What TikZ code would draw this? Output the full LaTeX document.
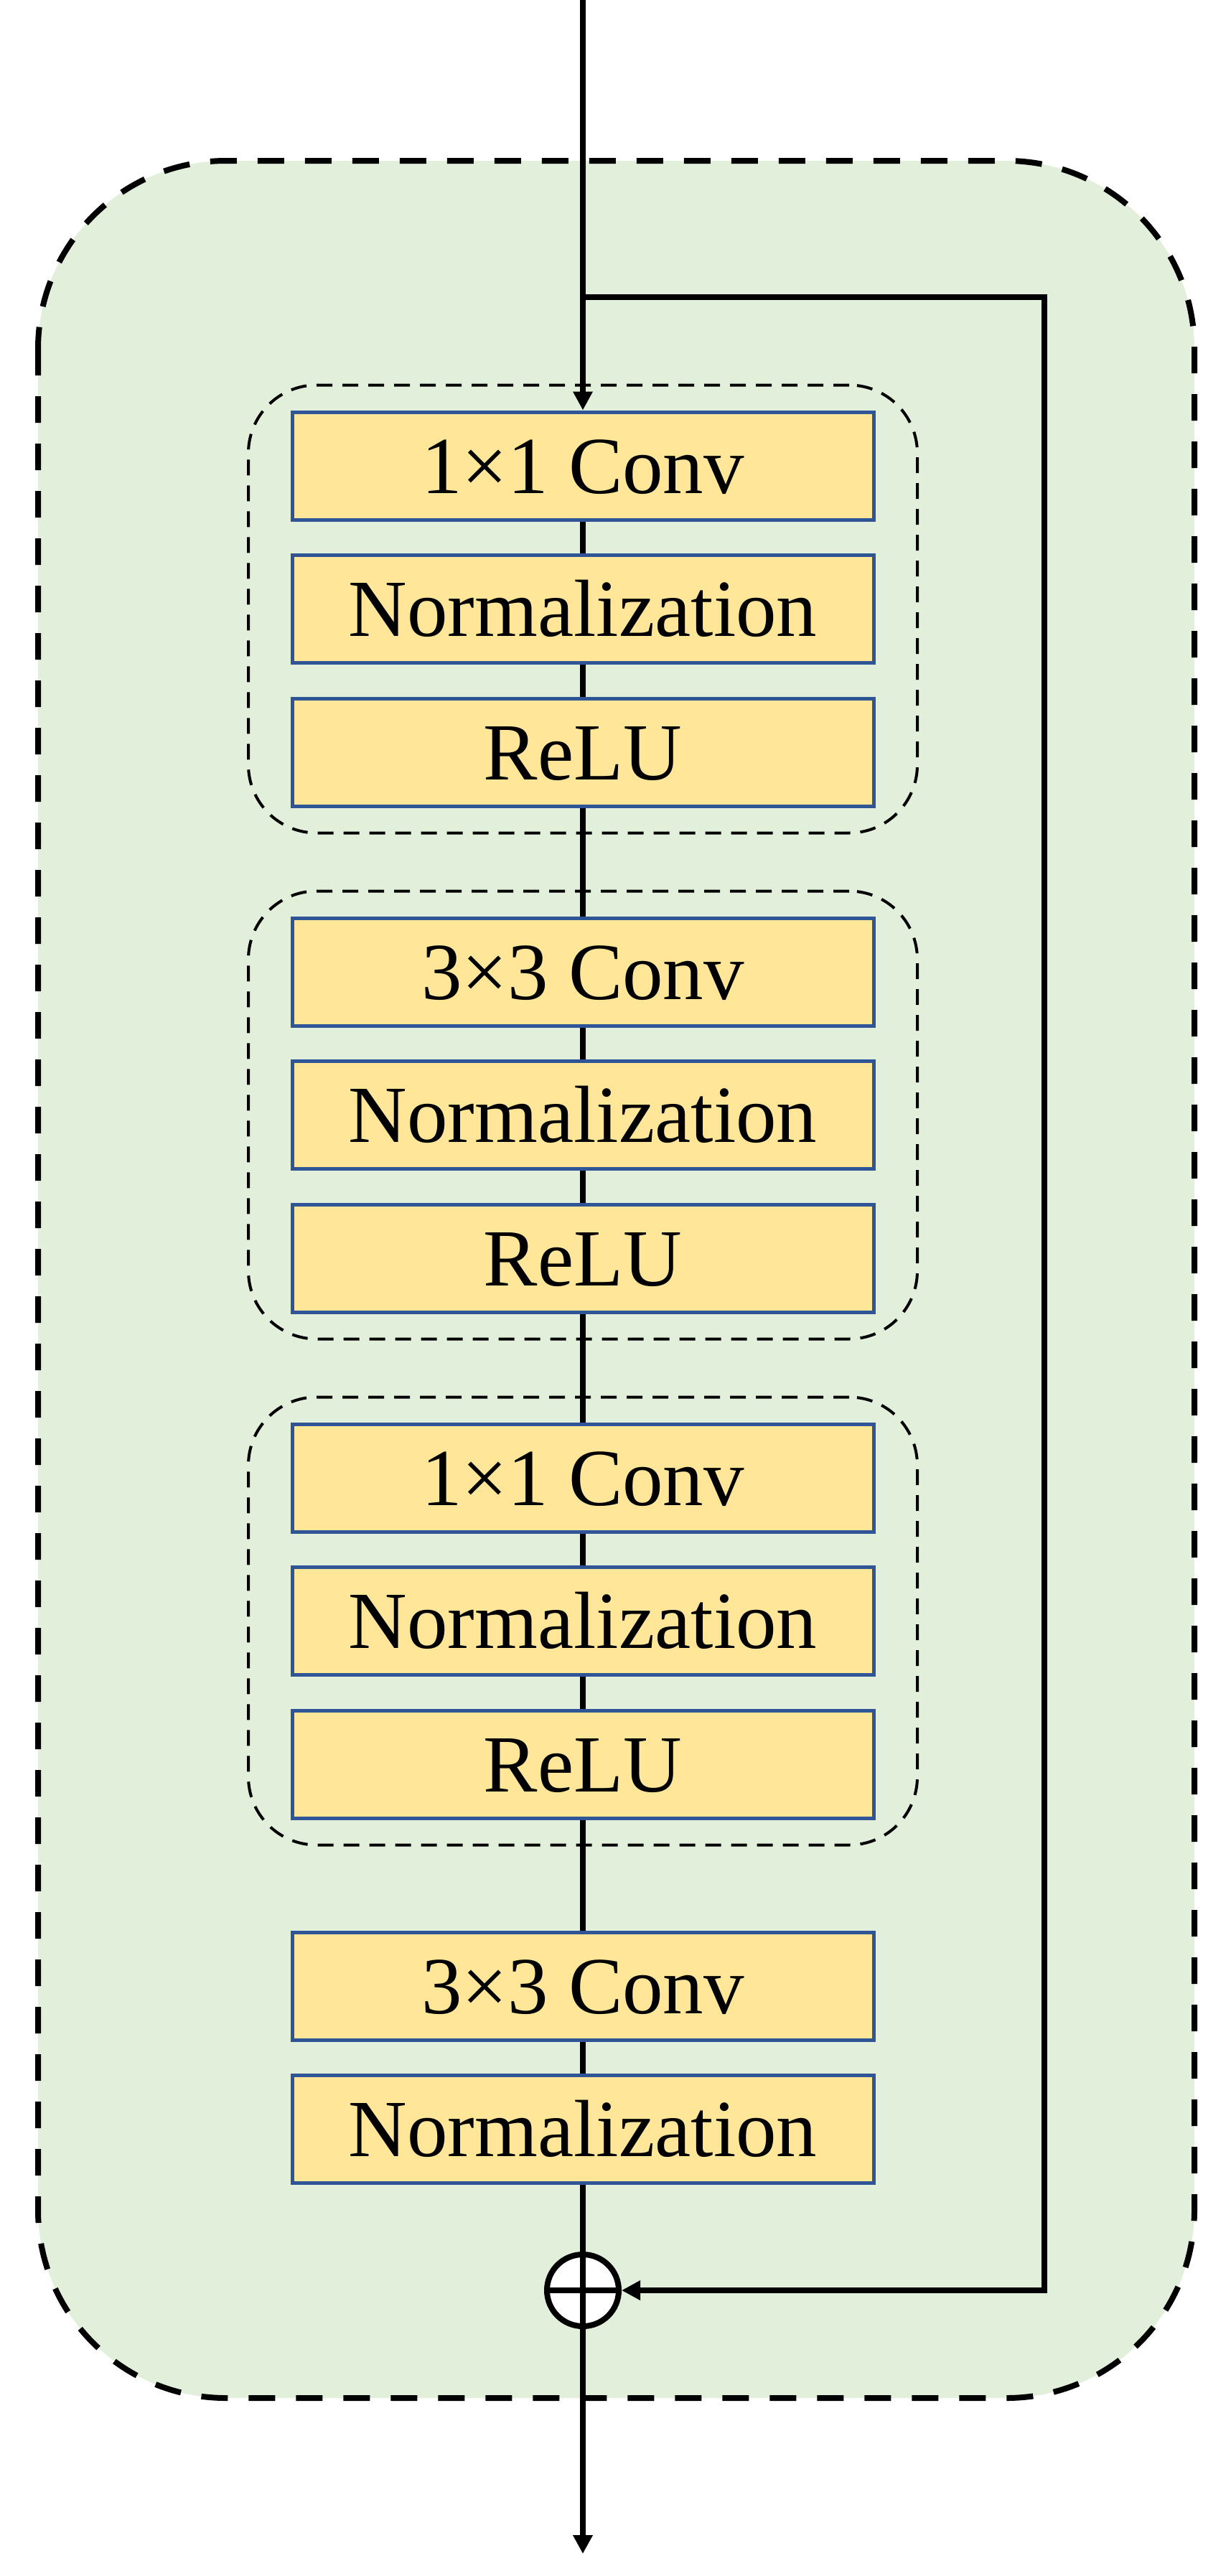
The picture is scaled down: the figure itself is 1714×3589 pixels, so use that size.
\documentclass[tikz,border=0pt]{standalone}
\usepackage{fontspec}
\setmainfont{Liberation Serif}
\usetikzlibrary{arrows.meta,fit,backgrounds}
\definecolor{bggreen}{HTML}{E2EFDA}
\definecolor{boxfill}{HTML}{FFE699}
\definecolor{boxline}{HTML}{2F5597}
\begin{document}
\begin{tikzpicture}[x=1pt,y=-1pt,
  blk/.style={draw=boxline, line width=5pt, fill=boxfill, minimum width=810pt,
    minimum height=150pt, inner sep=0pt, text height=76pt, text depth=0pt,
    font=\fontsize{113}{113}\selectfont},
  grp/.style={draw=black, line width=4pt, dash pattern=on 22pt off 14pt,
    rounded corners=95pt, inner xsep=58.5pt, inner ysep=35pt},
  conn/.style={draw=black, line width=8pt},
  tip/.style={-{Triangle[length=26pt,width=26pt]}}
]
\useasboundingbox (0,0) rectangle (1714,3589);
% boxes
\node[blk] (a1) at (812,649) {1×1 Conv};
\node[blk] (a2) at (812,848.5) {Normalization};
\node[blk] (a3) at (812,1048) {ReLU};
\node[blk] (b1) at (812,1354) {3×3 Conv};
\node[blk] (b2) at (812,1553.5) {Normalization};
\node[blk] (b3) at (812,1753) {ReLU};
\node[blk] (c1) at (812,2059) {1×1 Conv};
\node[blk] (c2) at (812,2258.5) {Normalization};
\node[blk] (c3) at (812,2458) {ReLU};
\node[blk] (d1) at (812,2767) {3×3 Conv};
\node[blk] (d2) at (812,2966) {Normalization};
\node[circle, draw=black, fill=white, line width=8pt, minimum size=100pt, inner sep=0pt] (plus) at (812,3191) {};
\begin{pgfonlayer}{background}
\fill[bggreen] (53,224) [rounded corners=262pt] rectangle (1664,3341);
\draw[line width=8pt, dash pattern=on 37pt off 29pt, rounded corners=262pt] (53,224) rectangle (1664,3341);
\node[grp, fit=(a1)(a3)] (g1) {};
\node[grp, fit=(b1)(b3)] (g2) {};
\node[grp, fit=(c1)(c3)] (g3) {};
\end{pgfonlayer}
\coordinate (in) at (812,0);
\coordinate (sk) at (812,414);
\coordinate (skr) at (1455,414);
\coordinate (out) at (812,3558);
\draw[conn,tip] (in) -- (a1.north);
\draw[conn] (a1) -- (a2);
\draw[conn] (a2) -- (a3);
\draw[conn] (a3) -- (b1);
\draw[conn] (b1) -- (b2);
\draw[conn] (b2) -- (b3);
\draw[conn] (b3) -- (c1);
\draw[conn] (c1) -- (c2);
\draw[conn] (c2) -- (c3);
\draw[conn] (c3) -- (d1);
\draw[conn] (d1) -- (d2);
\draw[conn] (d2) -- (plus.north);
\draw[conn,tip] (sk) -- (skr) |- (plus.east);
\draw[line width=8pt] (plus.north) -- (plus.south);
\draw[line width=8pt] (plus.west) -- (plus.east);
\draw[conn,tip] (plus.south) -- (out);
\end{tikzpicture}
\end{document}
